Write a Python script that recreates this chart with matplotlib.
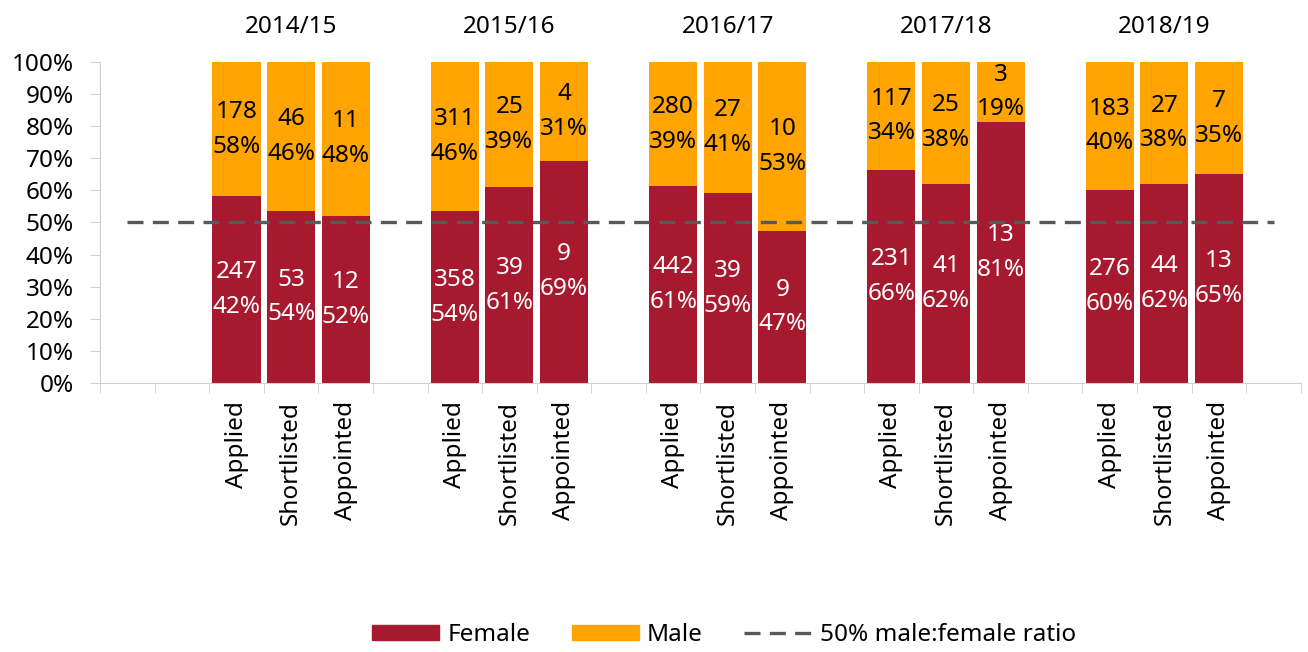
"""
Gender split of applicants, shortlisted and appointed candidates by year
"""

import numpy as np
import matplotlib
matplotlib.use('Agg')
import matplotlib.pyplot as plt
from matplotlib.ticker import PercentFormatter
from matplotlib.lines import Line2D
from matplotlib.patches import Patch

plt.rcParams['font.family'] = ['Noto Sans', 'DejaVu Sans']

# ── data ──
years = ['2014/15', '2015/16', '2016/17', '2017/18', '2018/19']
stages = ['Applied', 'Shortlisted', 'Appointed']

female_counts = [247, 53, 12, 358, 39, 9, 442, 39, 9, 231, 41, 13, 276, 44, 13]
male_counts = [178, 46, 11, 311, 25, 4, 280, 27, 10, 117, 25, 3, 183, 27, 7]
# percentages as printed on the chart
female_pct_labels = [42, 54, 52, 54, 61, 69, 61, 59, 47, 66, 62, 81, 60, 62, 65]
male_pct_labels = [58, 46, 48, 46, 39, 31, 39, 41, 53, 34, 38, 19, 40, 38, 35]
ratio_line = 0.5

FEMALE = '#A6192E'
MALE = '#FFA400'
GREY_LINE = '#595959'
AXIS = '#D0D0D0'
FS = 17.5
DASH = (4.8, 2.8)


def main():
    female = np.array(female_counts, dtype=float)
    male = np.array(male_counts, dtype=float)
    total = female + male
    f_share = female / total
    m_share = male / total

    # category slots: 2 blanks, then 3 bars + 1 blank per year
    n_slots = 2 + 4 * len(years)
    pos = np.array([2 + 4 * g + s for g in range(len(years)) for s in range(len(stages))])

    fig = plt.figure(figsize=(13.08, 6.52), dpi=100)
    ax = fig.add_axes([0.0765, 0.4126, 0.918, 0.4923])

    ax.bar(pos, f_share, width=0.88, color=FEMALE, zorder=2)
    ax.bar(pos, m_share, width=0.88, bottom=f_share, color=MALE, zorder=2)

    ax.plot(np.arange(n_slots), [ratio_line] * n_slots, color=GREY_LINE,
            lw=2.4, dashes=DASH, zorder=3)

    for i, x in enumerate(pos):
        ax.text(x, f_share[i] / 2, f"{female_counts[i]}\n{female_pct_labels[i]}%",
                ha='center', va='center', color='white', fontsize=FS,
                linespacing=1.6, zorder=4)
        ax.text(x, f_share[i] + m_share[i] / 2, f"{male_counts[i]}\n{male_pct_labels[i]}%",
                ha='center', va='center', color='black', fontsize=FS,
                linespacing=1.6, zorder=4)

    # year titles above the middle bar of each group
    for g, yr in enumerate(years):
        ax.text(2 + 4 * g + 1, 1.109, yr, transform=ax.get_xaxis_transform(),
                ha='center', va='center', fontsize=FS)

    ax.set_xlim(-0.5, n_slots - 0.5)
    ax.set_ylim(0, 1)
    ax.set_yticks(np.arange(0, 1.01, 0.1))
    ax.yaxis.set_major_formatter(PercentFormatter(1.0, decimals=0))
    ax.tick_params(axis='y', length=7, color=AXIS, pad=12, labelsize=FS)

    ax.set_xticks(pos)
    ax.set_xticklabels(stages * len(years), rotation=90, fontsize=FS)
    ax.set_xticks(np.arange(-0.5, n_slots), minor=True)
    ax.tick_params(axis='x', which='major', length=0, pad=13)
    ax.tick_params(axis='x', which='minor', length=7, color=AXIS)

    for side in ['top', 'right']:
        ax.spines[side].set_visible(False)
    for side in ['left', 'bottom']:
        ax.spines[side].set_color(AXIS)

    handles = [Patch(color=FEMALE, label='Female'),
               Patch(color=MALE, label='Male'),
               Line2D([], [], color=GREY_LINE, lw=2.4, dashes=DASH,
                      label='50% male:female ratio')]
    fig.legend(handles=handles, loc='center', bbox_to_anchor=(0.5535, 0.026),
               ncol=3, frameon=False, fontsize=FS, handlelength=2.75,
               handleheight=0.6, columnspacing=1.7, handletextpad=0.35)

    fig.savefig('out.png', dpi=100)
    plt.close(fig)


if __name__ == "__main__":
    main()
